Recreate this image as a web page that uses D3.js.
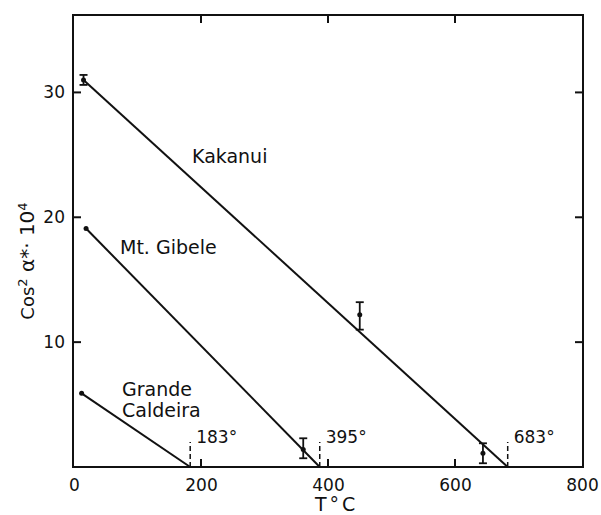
<!DOCTYPE html>
<html><head><meta charset="utf-8">
<script src="https://cdn.jsdelivr.net/npm/d3@7"></script>
<style>body{margin:0;background:#fff}text{font-family:"DejaVu Sans",sans-serif;fill:#111}</style>
</head><body><svg id="c" width="601" height="515"></svg>
<script>
// Data
const xTicks = [0, 200, 400, 600, 800];
const yTicks = [10, 20, 30];
const series = ["Kakanui", "Mt. Gibele", "Grande Caldeira"];
const lineStartT = [15, 19, 12];
const lineStartV = [31.0, 19.1, 5.9];
const interceptT = [683, 387, 183];
const interceptLabels = ["683°", "395°", "183°"];
const kakanuiPts = [{T: 15, v: 31.0, lo: 30.6, hi: 31.4}, {T: 450, v: 12.2, lo: 11.0, hi: 13.2}, {T: 644, v: 1.1, lo: 0.3, hi: 1.9}];
const gibelePts = [{T: 19, v: 19.1}, {T: 361, v: 1.4, lo: 0.7, hi: 2.3}];
const caldeiraPts = [{T: 12, v: 5.9}];
const dashTop = 2.0;

const svg = d3.select("#c");
const L = 73, R = 583, T = 15, B = 467;
const x = d3.scaleLinear().domain([0, 800]).range([L + 1, R - 1]);
const y = d3.scaleLinear().domain([0, 36.2]).range([B, T]);

// frame
svg.append("rect").attr("x", L).attr("y", T).attr("width", R - L).attr("height", B - T)
  .attr("fill", "none").attr("stroke", "#111").attr("stroke-width", 2);

const tl = 8;
// bottom axis
const bx = d3.axisBottom(x).tickValues(xTicks).tickSize(0).tickPadding(12).tickFormat(d3.format("d"));
const gb = svg.append("g").attr("transform", `translate(0,${B})`).call(bx);
gb.select(".domain").remove();
gb.selectAll("text").attr("font-size", 17).style("font-family", "DejaVu Sans");
xTicks.filter(d => d > 0 && d < 800).forEach(d => {
  svg.append("line").attr("x1", x(d)).attr("x2", x(d)).attr("y1", B).attr("y2", B - tl).attr("stroke", "#111").attr("stroke-width", 2);
  svg.append("line").attr("x1", x(d)).attr("x2", x(d)).attr("y1", T).attr("y2", T + tl).attr("stroke", "#111").attr("stroke-width", 2);
});
// left axis
const ly = d3.axisLeft(y).tickValues(yTicks).tickSize(0).tickPadding(8).tickFormat(d3.format("d"));
const gl = svg.append("g").attr("transform", `translate(${L},0)`).call(ly);
gl.select(".domain").remove();
gl.selectAll("text").attr("font-size", 17).style("font-family", "DejaVu Sans");
yTicks.forEach(d => {
  svg.append("line").attr("x1", L).attr("x2", L + tl).attr("y1", y(d)).attr("y2", y(d)).attr("stroke", "#111").attr("stroke-width", 2);
  svg.append("line").attr("x1", R).attr("x2", R - tl).attr("y1", y(d)).attr("y2", y(d)).attr("stroke", "#111").attr("stroke-width", 2);
});

// fitted lines
series.forEach((s, i) => {
  svg.append("line").attr("x1", x(lineStartT[i])).attr("y1", y(lineStartV[i]))
    .attr("x2", x(interceptT[i])).attr("y2", y(0)).attr("stroke", "#111").attr("stroke-width", 2);
  svg.append("line").attr("x1", x(interceptT[i])).attr("x2", x(interceptT[i]))
    .attr("y1", y(0)).attr("y2", y(dashTop)).attr("stroke", "#111").attr("stroke-width", 1.5)
    .attr("stroke-dasharray", "5,3");
});

// points & error bars
const allPts = kakanuiPts.concat(gibelePts, caldeiraPts);
allPts.forEach(p => {
  svg.append("circle").attr("cx", x(p.T)).attr("cy", y(p.v)).attr("r", 2.5).attr("fill", "#111");
  if (p.lo !== undefined) {
    svg.append("line").attr("x1", x(p.T)).attr("x2", x(p.T)).attr("y1", y(p.lo)).attr("y2", y(p.hi)).attr("stroke", "#111").attr("stroke-width", 1.8);
    [p.lo, p.hi].forEach(e => svg.append("line").attr("x1", x(p.T) - 4).attr("x2", x(p.T) + 4)
      .attr("y1", y(e)).attr("y2", y(e)).attr("stroke", "#111").attr("stroke-width", 1.8));
  }
});

// intercept labels
interceptLabels.forEach((t, i) => {
  svg.append("text").attr("x", x(interceptT[i]) + 6).attr("y", y(dashTop) + 1)
    .attr("font-size", 17).text(t);
});

// series labels
svg.append("text").attr("x", 192).attr("y", 163).attr("font-size", 19).text("Kakanui");
svg.append("text").attr("x", 120).attr("y", 254).attr("font-size", 19).text("Mt. Gibele");
svg.append("text").attr("x", 122).attr("y", 396).attr("font-size", 19).text("Grande");
svg.append("text").attr("x", 122).attr("y", 417).attr("font-size", 19).text("Caldeira");

// axis titles
svg.append("text").attr("x", 315).attr("y", 511).attr("font-size", 19).attr("letter-spacing", 3).text("T°C");
const yt = svg.append("text").attr("transform", "translate(34,261) rotate(-90)")
  .attr("text-anchor", "middle").attr("font-size", 18);
yt.append("tspan").text("Cos");
yt.append("tspan").attr("dy", -7).attr("font-size", 13).text("2");
yt.append("tspan").attr("dy", 7).attr("font-size", 20).text(" α*· 10");
yt.append("tspan").attr("dy", -7).attr("font-size", 13).text("4");
</script></body></html>
